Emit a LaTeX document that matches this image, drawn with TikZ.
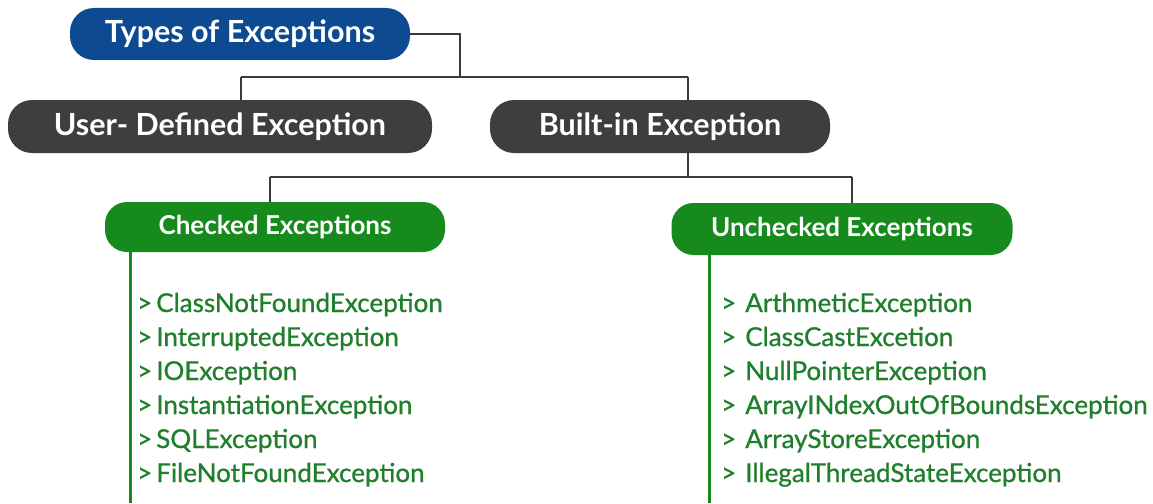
\documentclass[tikz,border=0pt]{standalone}
\usepackage{fontspec}
\setmainfont{Lato}
\newfontfamily\itemfont[FakeBold=0.8]{Lato}
\definecolor{hblue}{HTML}{0D4A91}
\definecolor{hgrey}{HTML}{3E3E3E}
\definecolor{hgreen}{HTML}{178A1E}
\definecolor{tgreen}{HTML}{1F7F2C}
\definecolor{lgrey}{HTML}{3A3A3A}
\begin{document}
\begin{tikzpicture}[x=1pt,y=-1pt,
  pill/.style={rectangle,rounded corners=24pt,text=white,font=\fontsize{30.5}{34}\selectfont\bfseries,inner sep=0pt},
  gpill/.style={pill,fill=hgreen,rounded corners=22pt,font=\fontsize{26}{30}\selectfont\bfseries},
  item/.style={anchor=base west,text=tgreen,font=\fontsize{26}{30}\itemfont,inner sep=0pt},
  conn/.style={draw=lgrey,line width=1.6pt},
  gline/.style={draw=hgreen,line width=3pt}]
\useasboundingbox (0,0) rectangle (1153,503);
\fill[white] (0,0) rectangle (1153,503);
% connectors
\coordinate (j1) at (460,77);
\coordinate (u1) at (241,77);
\coordinate (b1) at (688,77);
\coordinate (b2) at (688,177);
\coordinate (c1) at (270,177);
\coordinate (c2) at (852,177);
\node[pill,fill=hblue,minimum width=340pt,minimum height=52pt] (types) at (240,34) {Types of Exceptions};
\node[pill,fill=hgrey,minimum width=424pt,minimum height=53pt] (user) at (220,126.5) {User- Defined Exception};
\node[pill,fill=hgrey,minimum width=340pt,minimum height=53pt] (built) at (660,126.5) {Built-in Exception};
\node[gpill,minimum width=340pt,minimum height=50pt] (checked) at (275,227) {Checked Exceptions};
\node[gpill,minimum width=341pt,minimum height=52pt] (unchecked) at (842,229) {Unchecked Exceptions};
\draw[conn] (types.east) -| (j1);
\draw[conn] (u1) -- (b1);
\draw[conn] (u1) -- (u1 |- user.north);
\draw[conn] (b1) -- (b1 |- built.north);
\draw[conn] (b1 |- built.south) -- (b2);
\draw[conn] (c1) -- (c2);
\draw[conn] (c1) -- (c1 |- checked.north);
\draw[conn] (c2) -- (c2 |- unchecked.north);
\coordinate (gl1) at (130,503);
\coordinate (gl2) at (709,503);
\draw[gline] (gl1 |- checked.south) -- (gl1);
\draw[gline] (gl2 |- unchecked.south) -- (gl2);
% items
\node[item] (l1) at (137,312) {>\hspace{4pt}ClassNotFoundException};
\node[item] (l2) at (137,346) {>\hspace{4pt}InterruptedException};
\node[item] (l3) at (137,380) {>\hspace{4pt}IOException};
\node[item] (l4) at (137,414) {>\hspace{4pt}InstantiationException};
\node[item] (l5) at (137,448) {>\hspace{4pt}SQLException};
\node[item] (l6) at (137,482) {>\hspace{4pt}FileNotFoundException};
\node[item] (r1) at (721,312) {>\hspace{9pt}ArthmeticException};
\node[item] (r2) at (721,346) {>\hspace{9pt}ClassCastExcetion};
\node[item] (r3) at (721,380) {>\hspace{9pt}NullPointerException};
\node[item] (r4) at (721,414) {>\hspace{9pt}ArrayINdexOutOfBoundsException};
\node[item] (r5) at (721,448) {>\hspace{9pt}ArrayStoreException};
\node[item] (r6) at (721,482) {>\hspace{9pt}IllegalThreadStateException};
\end{tikzpicture}
\end{document}
